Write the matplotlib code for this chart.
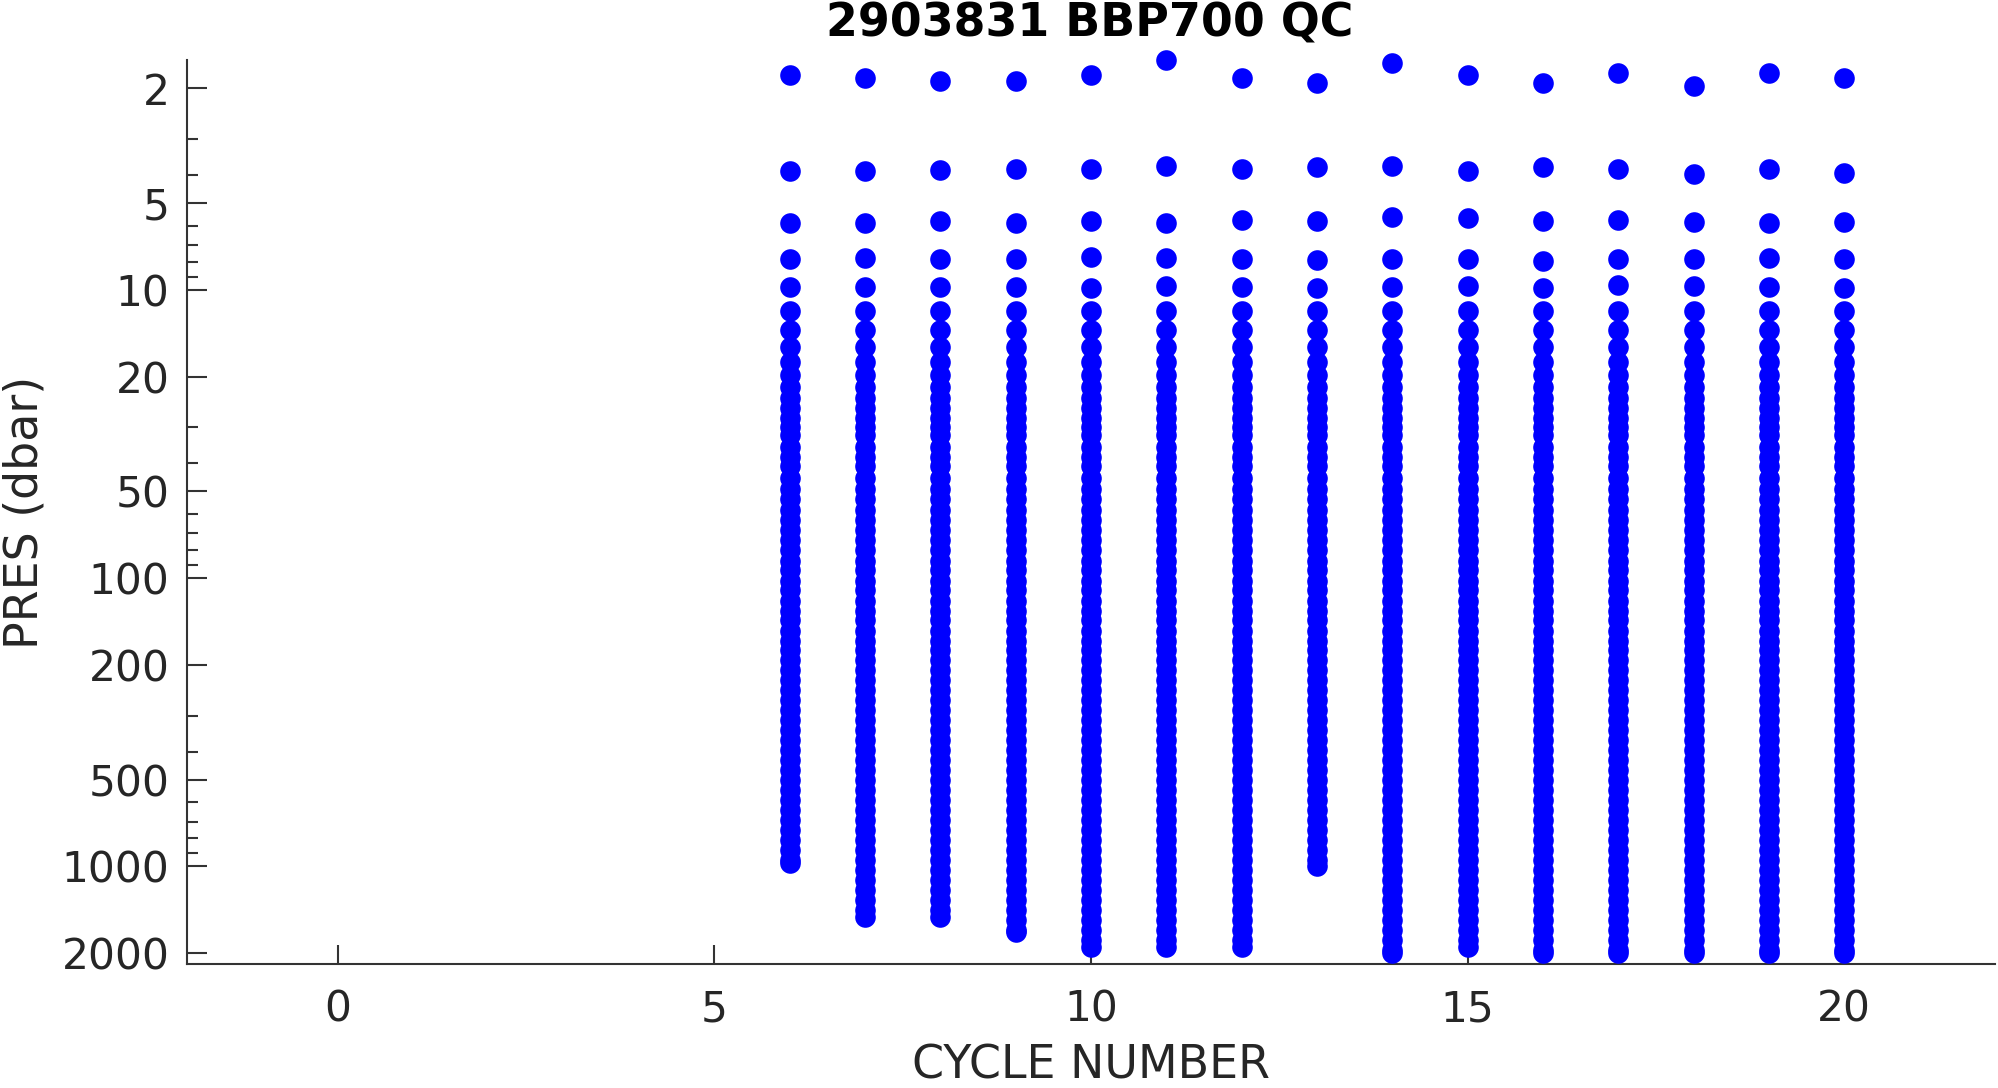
import numpy as np
import matplotlib
matplotlib.use("Agg")
import matplotlib.pyplot as plt
from matplotlib.ticker import FixedLocator, LogLocator, NullFormatter

# cycle numbers and the pressures (dbar)
cycles = [6, 7, 8, 9, 10, 11, 12, 13, 14, 15, 16, 17, 18, 19, 20]
p_row1 = [1.80, 1.85, 1.88, 1.88, 1.80, 1.60, 1.85, 1.92, 1.64, 1.80, 1.92, 1.77, 1.96, 1.77, 1.85]
p_row2 = [3.88, 3.88, 3.84, 3.80, 3.80, 3.72, 3.80, 3.76, 3.72, 3.88, 3.76, 3.80, 3.97, 3.80, 3.93]
p_row3 = [5.88, 5.85, 5.79, 5.88, 5.76, 5.88, 5.73, 5.76, 5.60, 5.64, 5.76, 5.73, 5.80, 5.88, 5.80]
p_row4 = [7.82, 7.78, 7.80, 7.84, 7.69, 7.78, 7.82, 7.90, 7.80, 7.80, 7.93, 7.80, 7.80, 7.76, 7.84]
p_row5 = [9.80, 9.80, 9.80, 9.80, 9.83, 9.73, 9.78, 9.83, 9.75, 9.73, 9.88, 9.65, 9.68, 9.75, 9.83]
p_max = [976, 1494, 1494, 1693, 1898, 1898, 1898, 997, 1992, 1898, 1992, 1992, 1992, 1992, 1992]

# deeper sampling levels (dbar)
deep_levels = [11.8, 13.8, 15.8, 17.8, 19.8, 21.8, 23.8, 25.8, 27.8, 29.8,
               32, 35, 38, 41, 45, 49, 53, 58, 63, 68, 74, 80, 87, 94,
               102, 110, 120, 130, 140, 152, 165, 178, 193, 209, 226, 245,
               265, 287, 311, 337, 365, 395, 428, 463, 501, 543, 588, 637,
               690, 747, 809, 876, 949, 1028, 1113, 1205, 1305, 1413, 1530,
               1657, 1794, 1943]

yticks = [2, 5, 10, 20, 50, 100, 200, 500, 1000, 2000]
xticks = [0, 5, 10, 15, 20]

plt.rcParams['font.family'] = ['DejaVu Sans']
txt_col = '#262626'
ax_col = '#333333'

fig = plt.figure(figsize=(19.99, 10.88), dpi=100)
ax = fig.add_axes([187 / 1999, 1 - 964 / 1088, (1995 - 187) / 1999, (964 - 60) / 1088])

xs, ys = [], []
for i, c in enumerate(cycles):
    prof = [p_row1[i], p_row2[i], p_row3[i], p_row4[i], p_row5[i]]
    prof += [p for p in deep_levels if p < p_max[i]]
    prof.append(p_max[i])
    xs += [c] * len(prof)
    ys += prof

ax.scatter(xs, ys, s=220, color='#0000ff', linewidths=0, clip_on=False, zorder=3)

ax.set_yscale('log')
ax.set_ylim(2180, 1.596)
ax.set_xlim(-2, 22)

ax.yaxis.set_major_locator(FixedLocator(yticks))
ax.set_yticklabels([str(t) for t in yticks])
ax.yaxis.set_minor_locator(LogLocator(base=10, subs=np.arange(2, 10), numticks=20))
ax.yaxis.set_minor_formatter(NullFormatter())
ax.set_xticks(xticks)
ax.set_xticklabels([str(t) for t in xticks])

for s in ['top', 'right']:
    ax.spines[s].set_visible(False)
for s in ['left', 'bottom']:
    ax.spines[s].set_color(ax_col)
    ax.spines[s].set_linewidth(1.5)

ax.tick_params(axis='y', which='major', direction='in', length=14.4, width=1.5,
               color=ax_col, labelsize=30.5, labelcolor=txt_col, pad=12.5)
ax.tick_params(axis='y', which='minor', direction='in', length=7.7, width=1.5, color=ax_col)
ax.tick_params(axis='x', which='major', direction='in', length=13.7, width=1.5,
               color=ax_col, labelsize=30.5, labelcolor=txt_col, pad=18)

ax.set_xlabel('CYCLE NUMBER', fontsize=33, color=txt_col, labelpad=9)
ax.set_ylabel('PRES (dbar)', fontsize=33, color=txt_col, labelpad=10)
fig.text(1090 / 1999, 1 - 24 / 1088, '2903831 BBP700 QC', fontsize=33, fontweight='bold',
         color='black', ha='center', va='center')

fig.savefig('out.png', dpi=100)
